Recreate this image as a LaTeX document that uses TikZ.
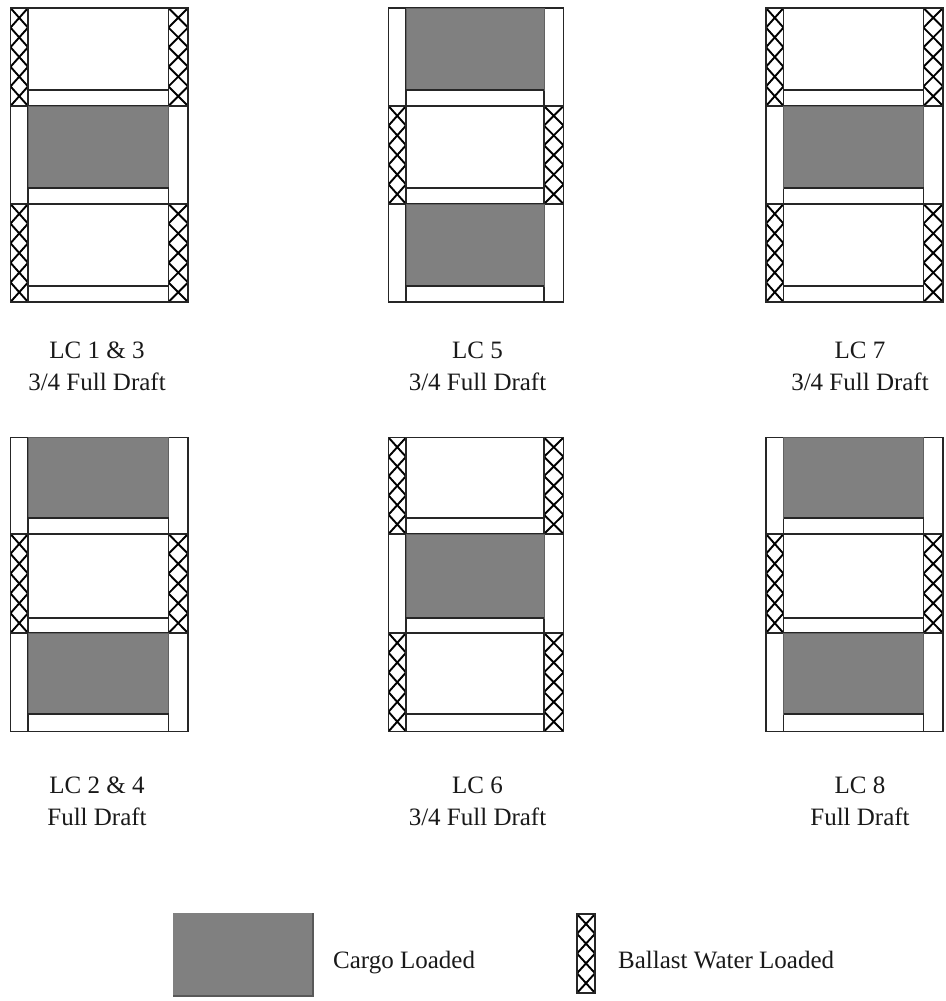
\documentclass[tikz,border=0pt]{standalone}
\usepackage{fontspec}
\setmainfont{Liberation Serif}
\tikzset{
  x=1pt,y=-1pt,
  wall/.style={draw=black!85,line width=1.3pt},
  cargo/.style={fill=black!50,draw=black!62,line width=0.8pt},
  cross/.style={draw=black,line width=1.9pt},
  caption/.style={font=\fontsize{25}{32}\selectfont,align=center,text=black!90,inner sep=0pt,anchor=center},
  legendtext/.style={font=\fontsize{25}{30}\selectfont,text=black!90,inner sep=0pt,anchor=base west}
}
% row offsets: shelf 1, partition 1, shelf 2, partition 2, shelf 3, height
\newcommand{\rowone}{\def\sa{82}\def\pa{98}\def\sb{180}\def\pb{196}\def\sc{278}\def\hh{294}}
\newcommand{\rowtwo}{\def\sa{80.5}\def\pa{96.5}\def\sb{180.5}\def\pb{195.5}\def\sc{276.5}\def\hh{294}}
% ballast column: left x, top y, width, height, number of tiles
\newcommand{\ballastcol}[5]{%
  \begin{scope}
    \clip (#1,#2) rectangle ++(#3,#4);
    \pgfmathsetmacro{\tileh}{(#4)/#5}
    \pgfmathtruncatemacro{\lasttile}{#5-1}
    \foreach \k in {0,...,\lasttile}{
      \draw[cross] (#1,#2+\k*\tileh) -- (#1+#3,#2+\k*\tileh+\tileh);
      \draw[cross] (#1+#3,#2+\k*\tileh) -- (#1,#2+\k*\tileh+\tileh);
    }
  \end{scope}}
% x, y top of bay, y bottom offset height, panel width
\newcommand{\ballastbay}[4]{%
  \ballastcol{#1}{#2}{17.5}{#3}{5}
  \ballastcol{#1+#4-19.5}{#2}{19.5}{#3}{5}}
\newcommand{\cargobay}[4]{%
  \fill[cargo] (#1+17.5,#2) rectangle (#1+#4-19.5,#3);}
\newcommand{\hullframe}[3]{%
  \draw[wall] (#1,#2) rectangle ++(#3,\hh);
  \draw[wall] (#1+17.5,#2) -- ++(0,\hh);
  \draw[wall] (#1+#3-19.5,#2) -- ++(0,\hh);
  \draw[wall] (#1,#2+\pa) -- ++(#3,0);
  \draw[wall] (#1,#2+\pb) -- ++(#3,0);}
\newcommand{\hullshelves}[3]{%
  \foreach \r in {\sa,\sb,\sc}{\draw[wall] (#1+17.5,#2+\r) -- (#1+#3-19.5,#2+\r);}}
% panels: x, y, width
\newcommand{\panelmid}[3]{%
  \ballastbay{#1}{#2}{\pa}{#3}\ballastbay{#1}{#2+\pb}{\hh-\pb}{#3}\hullframe{#1}{#2}{#3}%
  \cargobay{#1}{#2+\pa}{#2+\sb}{#3}\hullshelves{#1}{#2}{#3}}
\newcommand{\panelout}[3]{%
  \ballastbay{#1}{#2+\pa}{\pb-\pa}{#3}\hullframe{#1}{#2}{#3}%
  \cargobay{#1}{#2}{#2+\sa}{#3}\cargobay{#1}{#2+\pb}{#2+\sc}{#3}\hullshelves{#1}{#2}{#3}}
\begin{document}
\begin{tikzpicture}
\useasboundingbox (0,0) rectangle (945,1001);
\rowone
\panelmid{10.5}{8}{177.5}
\panelout{388.5}{8}{175}
\panelmid{766}{8}{177}
\rowtwo
\panelout{10.5}{437.5}{177.5}
\panelmid{388.5}{437.5}{175}
\panelout{766}{437.5}{177}
\node[caption] (lc13) at (97,366) {LC 1 \& 3\\3/4 Full Draft};
\node[caption] (lc5) at (477.5,366) {LC 5\\3/4 Full Draft};
\node[caption] (lc7) at (860,366) {LC 7\\3/4 Full Draft};
\node[caption] (lc24) at (97,801) {LC 2 \& 4\\Full Draft};
\node[caption] (lc6) at (477.5,801) {LC 6\\3/4 Full Draft};
\node[caption] (lc8) at (860,801) {LC 8\\Full Draft};
\fill[cargo,draw=none] (173,913) rectangle (313,996);
\draw[black!65,line width=1.2pt] (313,913) -- (313,996) -- (173,996);
\node[legendtext] (cargolabel) at (333,968) {Cargo Loaded};
\ballastcol{577}{914}{18}{79}{4}
\draw[wall] (577,914) rectangle (595,993);
\node[legendtext] (ballastlabel) at (618,968) {Ballast Water Loaded};
\end{tikzpicture}
\end{document}
